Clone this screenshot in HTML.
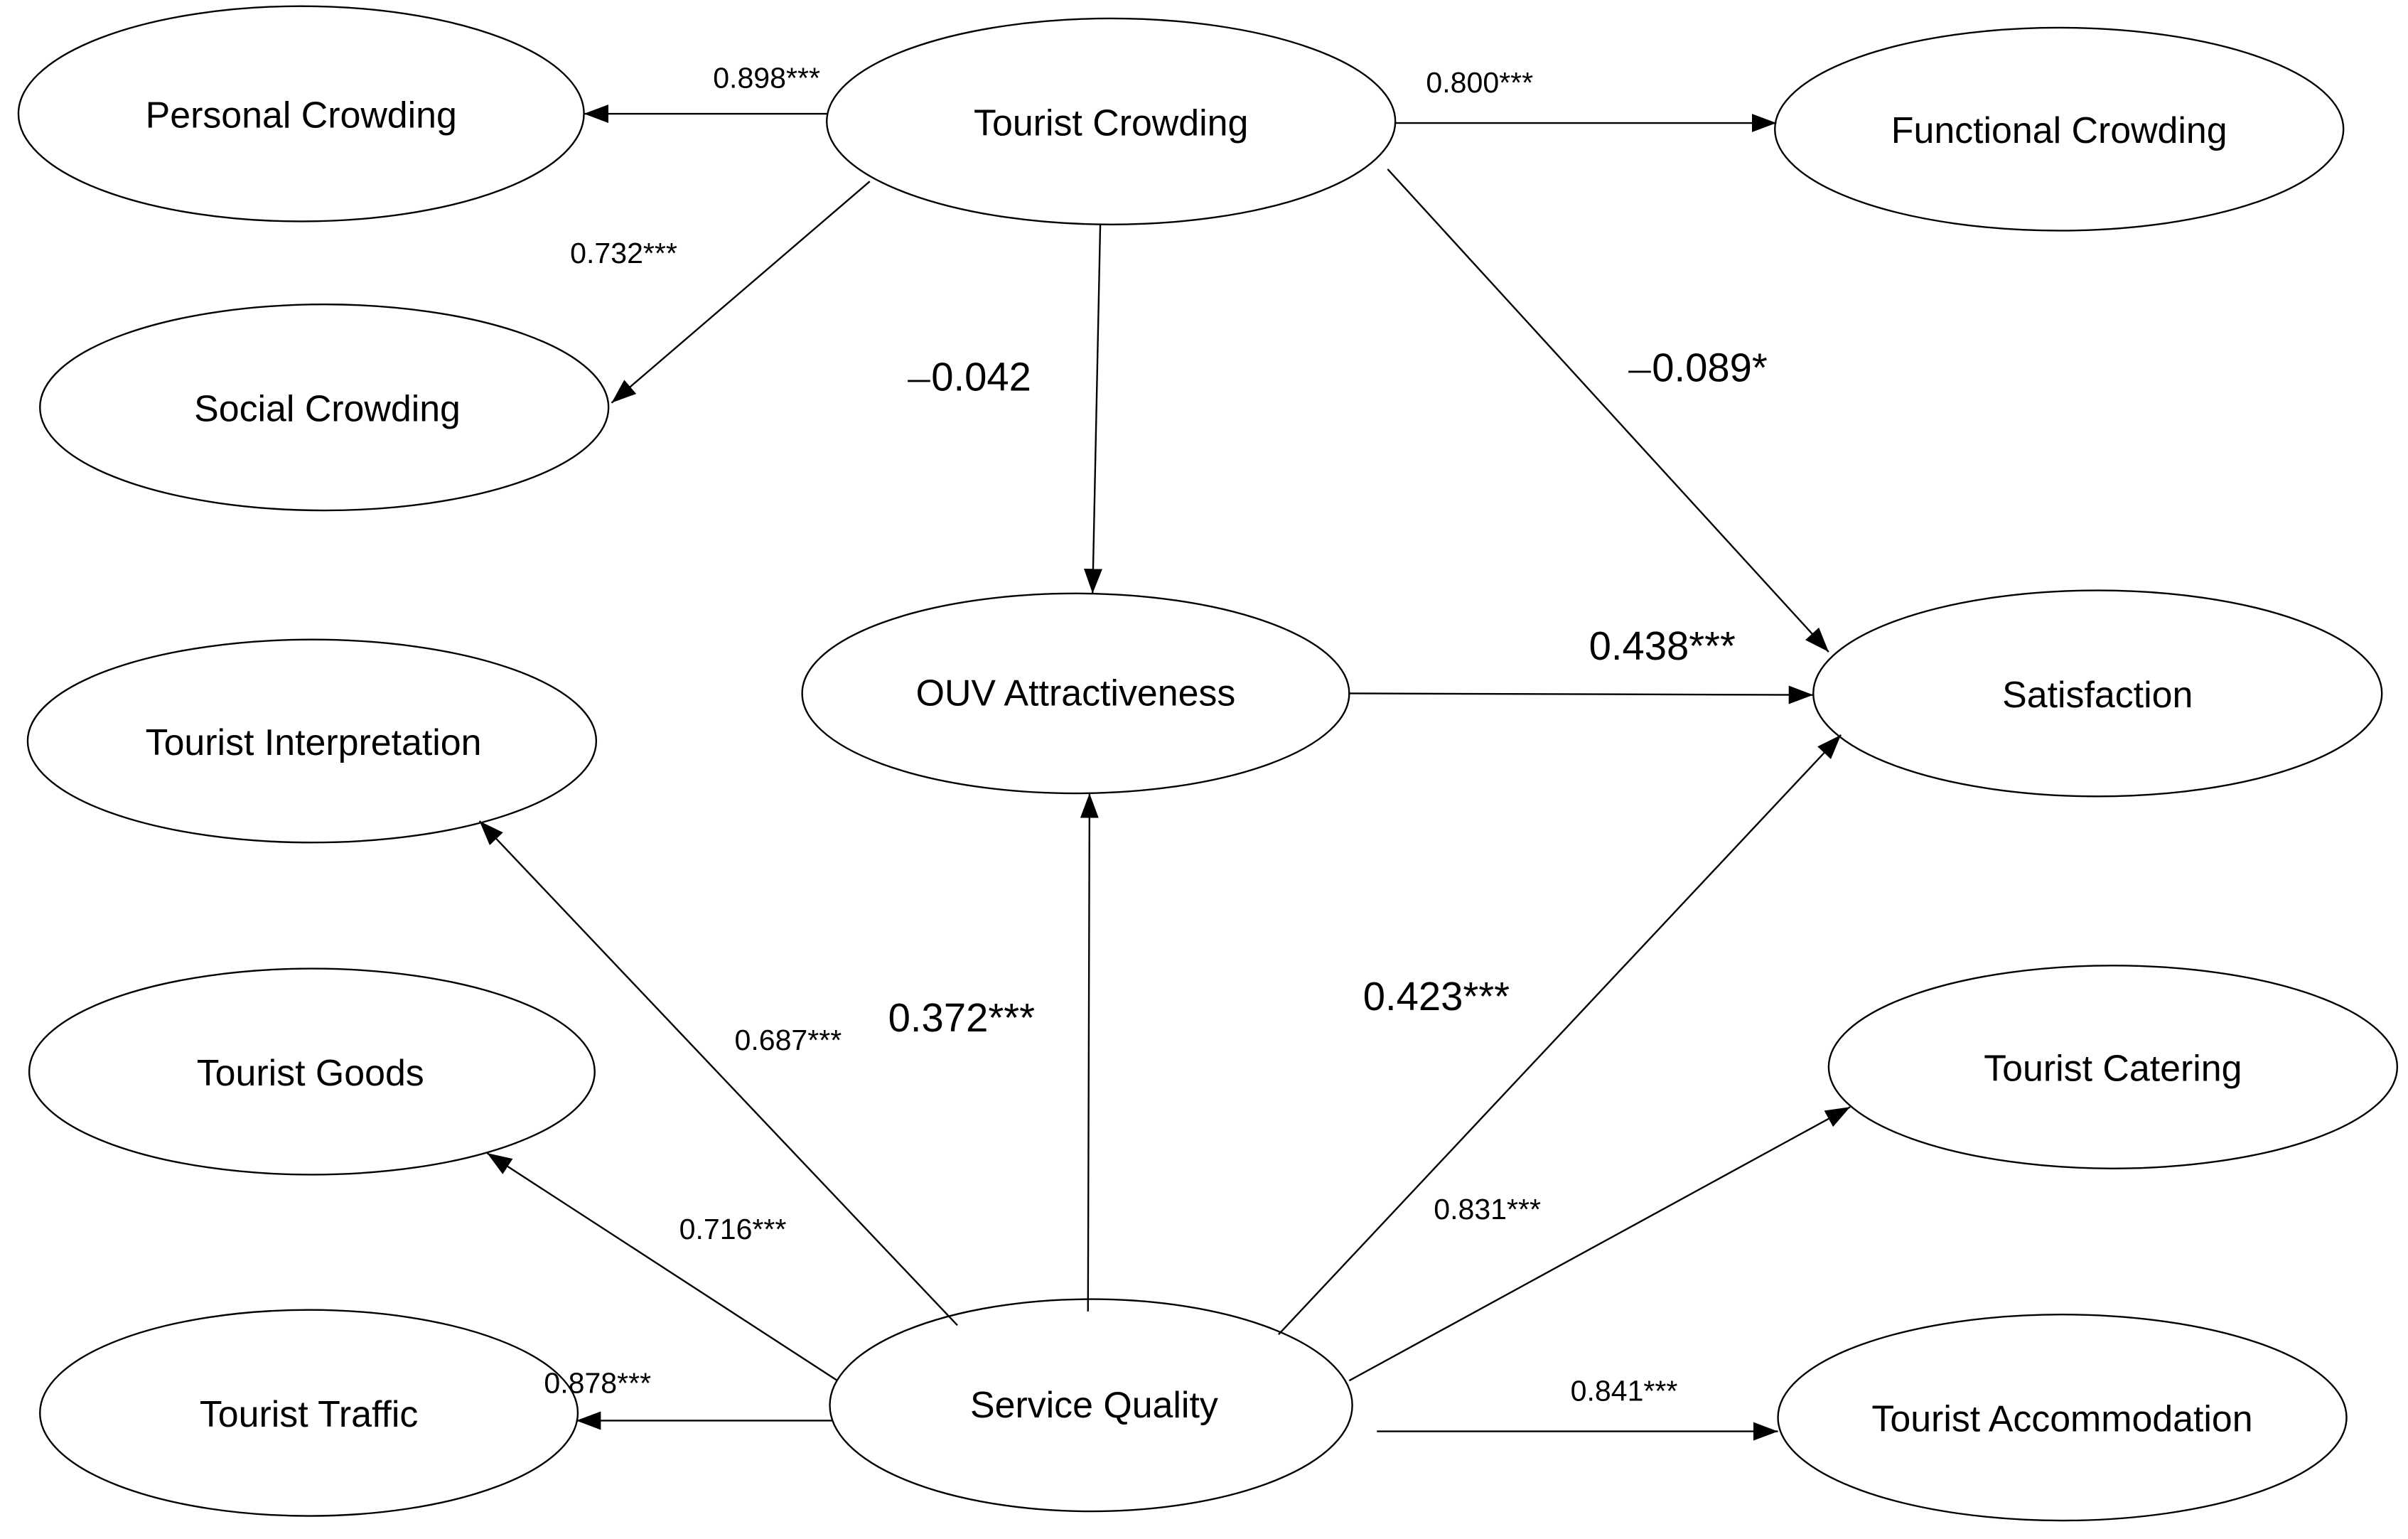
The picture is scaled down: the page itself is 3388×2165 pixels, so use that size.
<!DOCTYPE html>
<html><head><meta charset="utf-8"><style>html,body{margin:0;padding:0;background:#fff}svg{display:block}</style></head><body>
<svg width="3388" height="2165" viewBox="0 0 1567 1001" preserveAspectRatio="none" xmlns="http://www.w3.org/2000/svg" font-family="Liberation Sans, Noto Sans CJK SC, sans-serif">
<defs><marker id="a" markerWidth="10" markerHeight="8" refX="10" refY="4" orient="auto" markerUnits="userSpaceOnUse"><path d="M0,0 L10,4 L0,8 Z" fill="#000"/></marker>
<marker id="b" markerWidth="16" markerHeight="12" refX="16" refY="6" orient="auto" markerUnits="userSpaceOnUse"><path d="M0,0 L16,6 L0,12 Z" fill="#000"/></marker></defs>
<g fill="none" stroke="#000" stroke-width="1.1">
<ellipse cx="196" cy="74" rx="184" ry="70"/>
<ellipse cx="723" cy="79" rx="185" ry="67"/>
<ellipse cx="1340" cy="84" rx="185" ry="66"/>
<ellipse cx="211" cy="265" rx="185" ry="67"/>
<ellipse cx="700" cy="451" rx="178" ry="65"/>
<ellipse cx="1365" cy="451" rx="185" ry="67"/>
<ellipse cx="203" cy="482" rx="185" ry="66"/>
<ellipse cx="203" cy="697" rx="184" ry="67"/>
<ellipse cx="1375" cy="694" rx="185" ry="66"/>
<ellipse cx="201" cy="919" rx="175" ry="67"/>
<ellipse cx="710" cy="914" rx="170" ry="69"/>
<ellipse cx="1342" cy="922" rx="185" ry="67"/>
<g marker-end="url(#b)">
<line x1="538" y1="74" x2="380" y2="74"/>
<line x1="908" y1="80" x2="1156" y2="80"/>
<line x1="566" y1="118" x2="398" y2="262"/>
<line x1="716" y1="146" x2="711" y2="386"/>
<line x1="903" y1="110" x2="1190" y2="424"/>
<line x1="878" y1="451" x2="1180" y2="452"/>
<line x1="708" y1="853" x2="709" y2="516"/>
<line x1="623" y1="862" x2="312" y2="534"/>
<line x1="545" y1="898" x2="317" y2="750"/>
<line x1="542" y1="924" x2="375" y2="924"/>
<line x1="832" y1="868" x2="1198" y2="478"/>
<line x1="878" y1="898" x2="1204" y2="720"/>
<line x1="896" y1="931" x2="1157" y2="931"/>
</g></g>
<g font-size="24" text-anchor="middle" fill="#000">
<text x="196" y="83">Personal Crowding</text>
<text x="723" y="88">Tourist Crowding</text>
<text x="1340" y="93">Functional Crowding</text>
<text x="213" y="274">Social Crowding</text>
<text x="700" y="459">OUV Attractiveness</text>
<text x="1365" y="460">Satisfaction</text>
<text x="204" y="491">Tourist Interpretation</text>
<text x="202" y="706">Tourist Goods</text>
<text x="1375" y="703">Tourist Catering</text>
<text x="201" y="928">Tourist Traffic</text>
<text x="712" y="922">Service Quality</text>
<text x="1342" y="931">Tourist Accommodation</text>
</g>
<g font-size="19" fill="#000">
<text x="464" y="57">0.898***</text>
<text x="928" y="60">0.800***</text>
<text x="371" y="171">0.732***</text>
<text x="478" y="683">0.687***</text>
<text x="442" y="806">0.716***</text>
<text x="933" y="793">0.831***</text>
<text x="354" y="906">0.878***</text>
<text x="1022" y="911">0.841***</text>
</g>
<g font-size="26" fill="#000">
<text x="590" y="254"><tspan font-size="16">一</tspan>0.042</text>
<text x="1059" y="248"><tspan font-size="16">一</tspan>0.089*</text>
<text x="1034" y="429">0.438***</text>
<text x="578" y="671">0.372***</text>
<text x="887" y="657">0.423***</text>
</g>
</svg>
</body></html>
